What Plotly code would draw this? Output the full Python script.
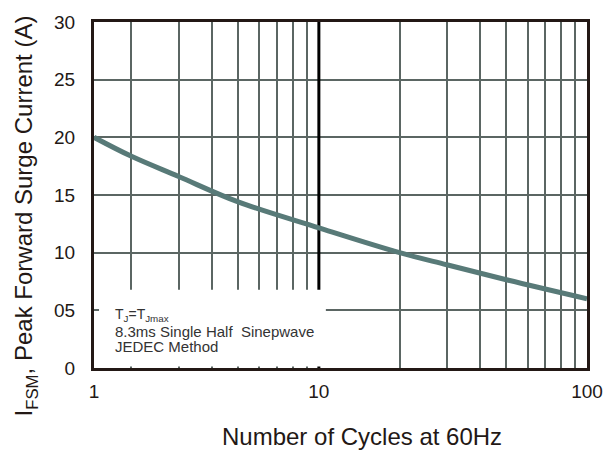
import math
import plotly.graph_objects as go

# Data (surge current vs number of cycles)
cycles = [1.45, 2, 3, 5, 10, 20, 30, 50, 100]
current = [20.0, 18.35, 16.6, 14.4, 12.15, 10.0, 8.95, 7.65, 6.0]

x_tickvals = [1.45, 2, 3, 4, 5, 6, 7, 8, 9, 10, 20, 30, 40, 50, 60, 70, 80, 90, 100]
x_ticktext = ["1", "", "", "", "", "", "", "", "", "10", "", "", "", "", "", "", "", "", "100"]
y_tickvals = [0, 5, 10, 15, 20, 25, 30]
y_ticktext = ["0", "05", "10", "15", "20", "25", "30"]

FONT = "Arial, Liberation Sans, sans-serif"
GRID = "#5B6663"
FRAME = "#231815"
CURVE = "#587A78"
TXT = "#231815"
NOTE = "#333333"

fig = go.Figure()
fig.add_trace(go.Scatter(
    x=cycles, y=current, mode="lines",
    line=dict(color=CURVE, width=5, shape="spline", smoothing=1.0),
    showlegend=False, hoverinfo="skip",
))

axis_common = dict(
    showgrid=True, gridcolor=GRID, gridwidth=2,
    showline=True, mirror=True, linecolor=FRAME, linewidth=3,
    ticks="", zeroline=False,
    tickfont=dict(family=FONT, size=19, color=TXT),
)

fig.update_layout(
    width=615, height=455,
    margin=dict(l=94, r=28, t=14, b=87),
    paper_bgcolor="white", plot_bgcolor="white",
    xaxis=dict(type="log", range=[math.log10(1.45), 2],
               tickmode="array", tickvals=x_tickvals, ticktext=x_ticktext,
               ticklabelstandoff=4, **axis_common),
    yaxis=dict(range=[0, 30], tickmode="array", tickvals=y_tickvals,
               ticktext=y_ticktext, ticklabelstandoff=12, **axis_common),
    shapes=[
        dict(type="line", xref="x", yref="y", x0=10, x1=10, y0=0, y1=30,
             line=dict(color="black", width=3), layer="between"),
        dict(type="rect", xref="x", yref="y",
             x0=1.514, x1=10.62, y0=0.12, y1=6.78,
             fillcolor="white", line=dict(width=0), layer="between"),
    ],
    annotations=[
        dict(text="Number of Cycles at 60Hz", xref="paper", yref="paper",
             x=(361.5 - 94) / 493, y=(368 - 438) / 354, xanchor="center", yanchor="middle",
             showarrow=False, font=dict(family=FONT, size=24, color=TXT)),
        dict(text="I<sub>FSM</sub>, Peak Forward Surge Current (A)", xref="paper", yref="paper",
             x=(26 - 94) / 493, y=(368 - 213) / 354, xanchor="center", yanchor="middle",
             textangle=-90, showarrow=False, font=dict(family=FONT, size=24, color=TXT)),
        dict(text="T<sub>J</sub>=T<sub>Jmax</sub>", xref="paper", yref="paper",
             x=(113 - 94) / 493, y=(368 - 314) / 354, xanchor="left", yanchor="middle",
             showarrow=False, font=dict(family=FONT, size=14, color=NOTE)),
        dict(text="8.3ms Single Half&nbsp; Sinepwave", xref="paper", yref="paper",
             x=(113 - 94) / 493, y=(368 - 331) / 354, xanchor="left", yanchor="middle",
             showarrow=False, font=dict(family=FONT, size=15, color=NOTE)),
        dict(text="JEDEC Method", xref="paper", yref="paper",
             x=(113 - 94) / 493, y=(368 - 345.5) / 354, xanchor="left", yanchor="middle",
             showarrow=False, font=dict(family=FONT, size=15, color=NOTE)),
    ],
)

fig.write_html("out.html")
